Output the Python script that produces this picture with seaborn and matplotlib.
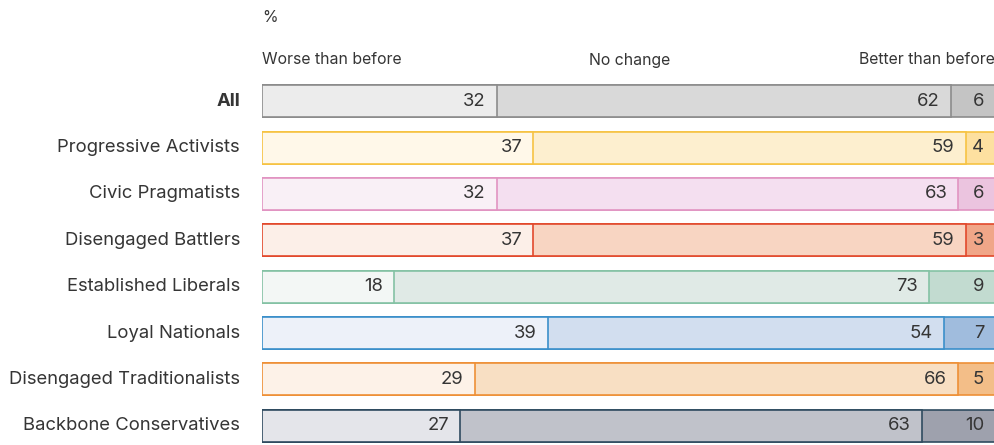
import matplotlib
matplotlib.use('Agg')
import matplotlib.pyplot as plt
import seaborn as sns
import pandas as pd
import numpy as np

# --- Data ---
groups = ['All', 'Progressive Activists', 'Civic Pragmatists', 'Disengaged Battlers',
          'Established Liberals', 'Loyal Nationals', 'Disengaged Traditionalists',
          'Backbone Conservatives']
worse = [32, 37, 32, 37, 18, 39, 29, 27]
no_change = [62, 59, 63, 59, 73, 54, 66, 63]
better = [6, 4, 6, 3, 9, 7, 5, 10]
segment_names = ['Worse than before', 'No change', 'Better than before']

# --- Styles ---
edge_colors = ['#8c8c8c', '#f6c343', '#e194c2', '#e2492c', '#84c2a4', '#3b8fca', '#ee9037', '#2f4b60']
worse_fill = ['#ececec', '#fff8e9', '#f9f0f6', '#fcefe8', '#f3f7f5', '#edf1f9', '#fdf2e8', '#e4e5ea']
nochange_fill = ['#d9d9d9', '#fdefcf', '#f4dff0', '#f8d5c2', '#e0eae6', '#d2deef', '#f8dfc3', '#c0c2ca']
better_fill = ['#c4c4c4', '#fde0a0', '#ebc4df', '#f0a688', '#c2dbd0', '#a0bcdd', '#f3be88', '#9ea1ad']
TEXT = '#353535'

sns.set_theme(style='white')
plt.rcParams['font.family'] = ['Inter', 'DejaVu Sans']

df = pd.DataFrame({'group': groups, 'worse': worse, 'no_change': no_change, 'better': better})
df['cum_nc'] = df['worse'] + df['no_change']
df['total'] = 100

fig = plt.figure(figsize=(9.95, 4.45), dpi=100)
ax = fig.add_axes([262 / 995, 1 - 449 / 445, 733 / 995, 371 / 445])

layers = [('total', better_fill), ('cum_nc', nochange_fill), ('worse', worse_fill)]
for col, fills in layers:
    n_before = len(ax.patches)
    sns.barplot(data=df, x=col, y='group', hue='group', order=groups, hue_order=groups,
                palette=dict(zip(groups, fills)), orient='h', width=0.69,
                linewidth=1.2, legend=False, ax=ax, saturation=1)
    for p in ax.patches[n_before:]:
        i = int(round(p.get_y() + p.get_height() / 2))
        p.set_edgecolor(edge_colors[i])
        p.set_linewidth(1.2)

ax.set_xlim(0, 100)
ax.set_ylim(7.5, -0.5)
ax.set_xlabel('')
ax.set_ylabel('')
ax.set_xticks([])
ax.set_yticks([])
for s in ax.spines.values():
    s.set_visible(False)

# value labels
for i, g in enumerate(groups):
    ends = [worse[i], worse[i] + no_change[i], 100]
    vals = [worse[i], no_change[i], better[i]]
    for e, v in zip(ends, vals):
        ax.text(e - 1.5, i, str(v), ha='right', va='center', fontsize=13.3, color=TEXT)

# category labels
for i, g in enumerate(groups):
    ax.text(-3.0, i, g, ha='right', va='center', fontsize=13.3, color=TEXT,
            fontweight='bold' if g == 'All' else 'normal', clip_on=False)

# header labels
fig.text(262 / 995, 1 - 18 / 445, '%', ha='left', va='center', fontsize=11.4, color=TEXT)
fig.text(262 / 995, 1 - 60 / 445, segment_names[0], ha='left', va='center', fontsize=11.4, color=TEXT)
fig.text(630 / 995, 1 - 60 / 445, segment_names[1], ha='center', va='center', fontsize=11.4, color=TEXT)
fig.text(995 / 995, 1 - 60 / 445, segment_names[2], ha='right', va='center', fontsize=11.4, color=TEXT)

fig.savefig('out.png', dpi=100)
